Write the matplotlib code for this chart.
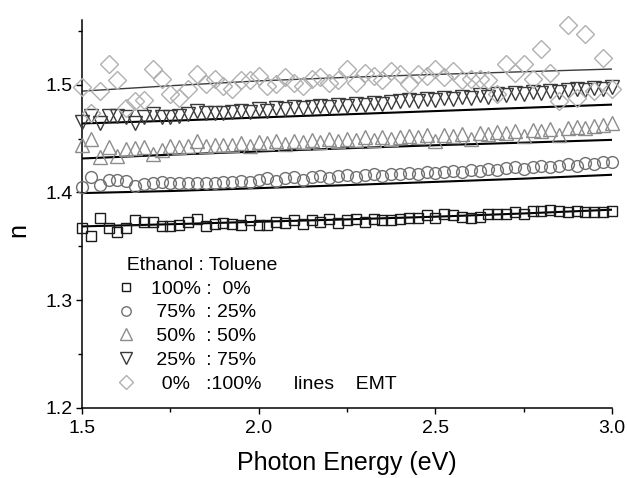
import matplotlib
matplotlib.use("Agg")
import matplotlib.pyplot as plt
import numpy as np

plt.rcParams["font.family"] = ["Liberation Sans", "DejaVu Sans"]

# measurement grid (0.025 eV steps)
energy = np.linspace(1.5, 3.0, 61)

n_100_0 = [1.367, 1.360, 1.376, 1.367, 1.363, 1.367, 1.374, 1.373, 1.373, 1.369,
           1.369, 1.370, 1.373, 1.375, 1.369, 1.371, 1.372, 1.371, 1.370, 1.374,
           1.370, 1.370, 1.373, 1.372, 1.374, 1.371, 1.374, 1.373, 1.375, 1.372,
           1.374, 1.375, 1.373, 1.375, 1.374, 1.374, 1.375, 1.376, 1.376, 1.379,
           1.376, 1.380, 1.379, 1.377, 1.376, 1.377, 1.380, 1.380, 1.380, 1.382,
           1.380, 1.383, 1.383, 1.384, 1.383, 1.382, 1.383, 1.382, 1.382, 1.382,
           1.383]
n_75_25 = [1.405, 1.414, 1.407, 1.412, 1.412, 1.411, 1.406, 1.408, 1.409, 1.410,
           1.409, 1.409, 1.409, 1.409, 1.409, 1.409, 1.410, 1.410, 1.411, 1.410,
           1.412, 1.413, 1.411, 1.413, 1.414, 1.412, 1.414, 1.415, 1.413, 1.415,
           1.416, 1.414, 1.416, 1.417, 1.415, 1.417, 1.417, 1.418, 1.417, 1.419,
           1.418, 1.419, 1.420, 1.419, 1.421, 1.420, 1.422, 1.421, 1.423, 1.424,
           1.422, 1.424, 1.425, 1.424, 1.425, 1.426, 1.425, 1.427, 1.426, 1.428,
           1.428]
n_50_50 = [1.444, 1.450, 1.433, 1.442, 1.434, 1.440, 1.441, 1.442, 1.436, 1.439,
           1.443, 1.442, 1.443, 1.448, 1.443, 1.444, 1.444, 1.444, 1.446, 1.443,
           1.447, 1.446, 1.448, 1.445, 1.448, 1.447, 1.449, 1.447, 1.450, 1.448,
           1.450, 1.449, 1.451, 1.449, 1.451, 1.450, 1.451, 1.452, 1.451, 1.453,
           1.448, 1.453, 1.452, 1.454, 1.450, 1.455, 1.454, 1.456, 1.455, 1.457,
           1.452, 1.458, 1.457, 1.459, 1.453, 1.460, 1.461, 1.460, 1.462, 1.463,
           1.464]
n_25_75 = [1.465, 1.471, 1.464, 1.471, 1.471, 1.470, 1.464, 1.470, 1.473, 1.470,
           1.470, 1.471, 1.473, 1.476, 1.474, 1.474, 1.474, 1.475, 1.476, 1.475,
           1.477, 1.476, 1.478, 1.477, 1.479, 1.478, 1.479, 1.480, 1.479, 1.481,
           1.480, 1.482, 1.481, 1.483, 1.482, 1.484, 1.485, 1.486, 1.485, 1.487,
           1.486, 1.488, 1.487, 1.489, 1.488, 1.490, 1.489, 1.491, 1.490, 1.492,
           1.491, 1.493, 1.492, 1.494, 1.493, 1.495, 1.496, 1.495, 1.497, 1.496,
           1.498]
n_0_100 = [1.498, 1.474, 1.494, 1.519, 1.504, 1.478, 1.485, 1.486, 1.515, 1.505,
           1.491, 1.488, 1.496, 1.510, 1.501, 1.505, 1.499, 1.496, 1.504, 1.504,
           1.508, 1.499, 1.501, 1.507, 1.502, 1.499, 1.505, 1.507, 1.502, 1.504,
           1.515, 1.502, 1.511, 1.508, 1.504, 1.513, 1.510, 1.501, 1.510, 1.508,
           1.515, 1.507, 1.513, 1.504, 1.505, 1.505, 1.504, 1.491, 1.519, 1.511,
           1.519, 1.505, 1.533, 1.511, 1.485, 1.555, 1.488, 1.547, 1.494, 1.525,
           1.496]

# effective medium theory curves
emt_energy = [1.5, 1.75, 2.0, 2.25, 2.5, 2.75, 3.0]
emt_100_0 = [1.3685, 1.3705, 1.3728, 1.3750, 1.3775, 1.3805, 1.3840]
emt_75_25 = [1.3994, 1.4013, 1.4040, 1.4068, 1.4098, 1.4128, 1.4164]
emt_50_50 = [1.4315, 1.4350, 1.4380, 1.4410, 1.4438, 1.4462, 1.4488]
emt_25_75 = [1.4640, 1.4665, 1.4695, 1.4725, 1.4755, 1.4785, 1.4815]
emt_0_100 = [1.4940, 1.4990, 1.5035, 1.5068, 1.5095, 1.5120, 1.5145]

labels = ["100% :  0%", " 75%  : 25%", " 50%  : 50%", " 25%  : 75%",
          "  0%   :100%      lines    EMT"]

series = [
    (n_100_0, emt_100_0, "s", "#1a1a1a", 7.5),
    (n_75_25, emt_75_25, "o", "#707070", 8.5),
    (n_50_50, emt_50_50, "^", "#8c8c8c", 10.5),
    (n_25_75, emt_25_75, "v", "#3a3a3a", 10.5),
    (n_0_100, emt_0_100, "D", "#b0b0b0", 9.0),
]

fig = plt.figure(figsize=(6.27, 4.78), dpi=100)
ax = fig.add_axes([82 / 627, 70 / 478, 530 / 627, 388 / 478])

handles = []
for vals, emt, marker, color, ms in series:
    if marker == "D":
        ax.plot(emt_energy, emt, color="#3a3a3a", lw=1.0, zorder=2)
    else:
        ax.plot(emt_energy, emt, color="black", lw=1.5, zorder=2)
    h, = ax.plot(energy, vals, linestyle="none", marker=marker, markersize=ms,
                 markerfacecolor="none", markeredgecolor=color,
                 markeredgewidth=1.0, clip_on=False, zorder=3)
    handles.append(h)

ax.set_xlim(1.5, 3.0)
ax.set_ylim(1.2, 1.56)
ax.set_xticks([1.5, 2.0, 2.5, 3.0])
ax.set_xticks([1.75, 2.25, 2.75], minor=True)
ax.set_yticks([1.2, 1.3, 1.4, 1.5])
ax.set_yticks([1.25, 1.35, 1.45, 1.55], minor=True)
ax.xaxis.set_major_formatter(plt.FormatStrFormatter("%.1f"))
ax.yaxis.set_major_formatter(plt.FormatStrFormatter("%.1f"))

for side in ["top", "right"]:
    ax.spines[side].set_visible(False)
for side in ["left", "bottom"]:
    ax.spines[side].set_linewidth(1.1)

ax.tick_params(which="major", direction="out", length=4.5, width=1.0, labelsize=14)
ax.tick_params(which="minor", direction="out", length=3.0, width=1.0)
ax.tick_params(axis="y", which="major", pad=2)
ax.tick_params(axis="x", which="major", pad=4)

ax.set_xlabel("Photon Energy (eV)", fontsize=18)
ax.set_ylabel("n", fontsize=18)
ax.xaxis.set_label_coords(0.5, -0.11)
ax.yaxis.set_label_coords(-0.098, 0.46)

leg = ax.legend(handles, labels, title="  Ethanol : Toluene", loc="upper left",
                bbox_to_anchor=(0.064, 0.39), frameon=False, fontsize=14,
                title_fontsize=14, handlelength=1.0, handletextpad=0.8,
                labelspacing=0.32, borderpad=0, borderaxespad=0,
                markerscale=0.8, alignment="left")

fig.savefig("out.png", dpi=100)
